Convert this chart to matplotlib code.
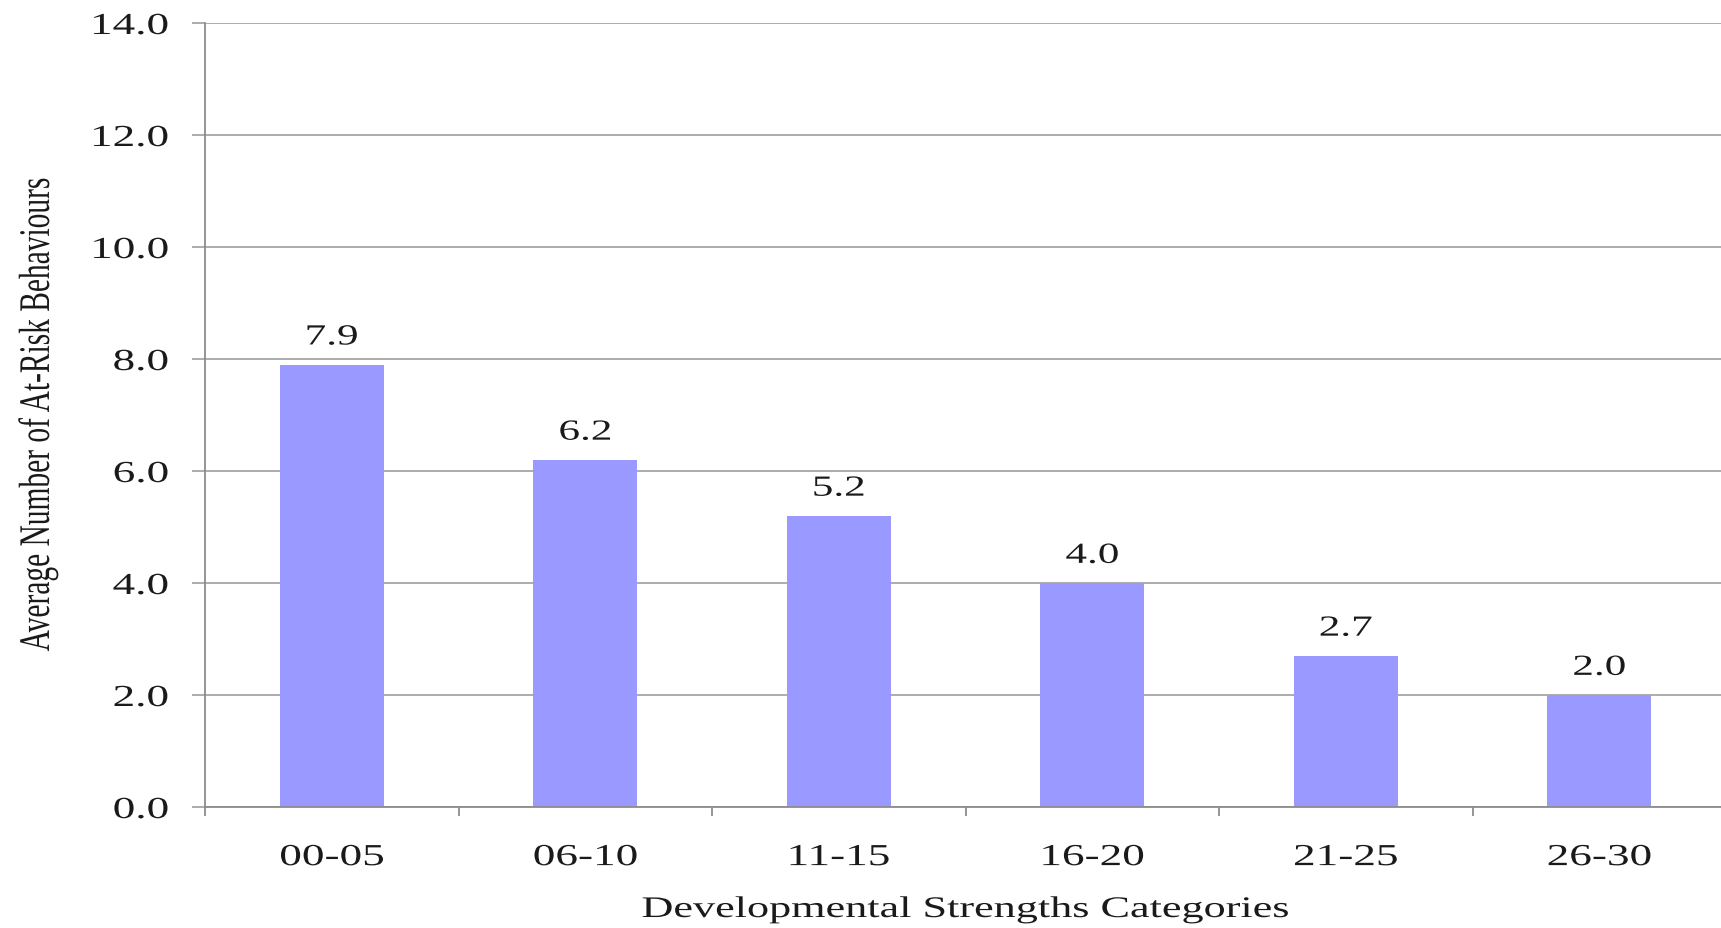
import matplotlib
matplotlib.use("Agg")
import matplotlib.pyplot as plt
import numpy as np
from matplotlib.patheffects import AbstractPathEffect
from matplotlib.transforms import Affine2D

# Data
categories = ["00-05", "06-10", "11-15", "16-20", "21-25", "26-30"]
avg_behaviours = [7.9, 6.2, 5.2, 4.0, 2.7, 2.0]
y_ticks = [0, 2, 4, 6, 8, 10, 12, 14]

x_title = "Developmental Strengths Categories"
y_title = "Average Number of At-Risk Behaviours"


class Widen(AbstractPathEffect):
    """Draw text glyphs scaled along one glyph axis, keeping an anchor fixed."""

    def __init__(self, sx=1.0, sy=1.0, fx=0.5, fy=0.5):
        super().__init__()
        self.sx, self.sy, self.fx, self.fy = sx, sy, fx, fy

    def draw_path(self, renderer, gc, tpath, affine, rgbFace=None):
        ext = tpath.get_extents()
        px = ext.x0 + self.fx * ext.width
        py = ext.y0 + self.fy * ext.height
        pre = Affine2D().translate(-px, -py).scale(self.sx, self.sy).translate(px, py)
        renderer.draw_path(gc, tpath, pre + affine, rgbFace)


STRETCH = 1.48
TEXT_COLOR = "#1A1A1A"
GRID_COLOR = "#A6A6A6"
BAR_COLOR = "#9999FF"

plt.rcParams["font.family"] = ["Liberation Serif", "DejaVu Serif"]

W, H = 1721, 929
fig = plt.figure(figsize=(W / 100, H / 100), dpi=100)
fig.patch.set_facecolor("white")
ax = fig.add_axes([205 / W, 1 - 808 / H, 1521 / W, 784 / H])

x = np.arange(len(categories))
ax.bar(x, avg_behaviours, width=0.41, color=BAR_COLOR, edgecolor="none", zorder=2)

ax.set_xlim(-0.5, len(categories) - 0.5)
ax.set_ylim(0, 14)

# Horizontal gridlines
ax.set_yticks(y_ticks)
ax.set_yticklabels([f"{v:.1f}" for v in y_ticks])
ax.yaxis.grid(True, color=GRID_COLOR, linewidth=1.3)
ax.set_axisbelow(True)

for side in ("top", "right"):
    ax.spines[side].set_visible(False)
for side in ("left", "bottom"):
    ax.spines[side].set_color("#8C8C8C")
    ax.spines[side].set_linewidth(1.3)

ax.tick_params(axis="y", length=9.4, width=1.3, color=GRID_COLOR, pad=17,
               labelsize=22, labelcolor=TEXT_COLOR)

# Category labels at bar centres, small tick marks between categories
ax.set_xticks(x)
ax.set_xticklabels(categories)
ax.set_xticks(np.arange(-0.5, len(categories)), minor=True)
ax.tick_params(axis="x", which="major", length=0, pad=26, labelsize=22,
               labelcolor=TEXT_COLOR)
ax.tick_params(axis="x", which="minor", length=6.5, width=1.3, color="#8C8C8C")

for lbl in ax.get_yticklabels():
    lbl.set_path_effects([Widen(sx=STRETCH, fx=1.0)])
for lbl in ax.get_xticklabels():
    lbl.set_path_effects([Widen(sx=STRETCH, fx=0.5)])

# Value labels above bars
for xi, v in zip(x, avg_behaviours):
    t = ax.annotate(f"{v:.1f}", xy=(xi, v), xytext=(0, 14.5), textcoords="offset points",
                    ha="center", va="baseline", fontsize=21, color=TEXT_COLOR)
    t.set_path_effects([Widen(sx=STRETCH, fx=0.5)])

# Axis titles
ax.set_xlabel(x_title, fontsize=21.5, color=TEXT_COLOR)
ax.xaxis.set_label_coords(0.5, (808 - 911) / 784)
ax.xaxis.label.set_va("center")
ax.xaxis.label.set_path_effects([Widen(sx=STRETCH, fx=0.5)])

ax.set_ylabel(y_title, fontsize=21.2, color=TEXT_COLOR)
ax.yaxis.set_label_coords((38 - 205) / 1521, 0.5)
ax.yaxis.label.set_va("center")
ax.yaxis.label.set_path_effects([Widen(sy=STRETCH, fy=0.5)])

fig.savefig("out.png", dpi=100, facecolor="white")
